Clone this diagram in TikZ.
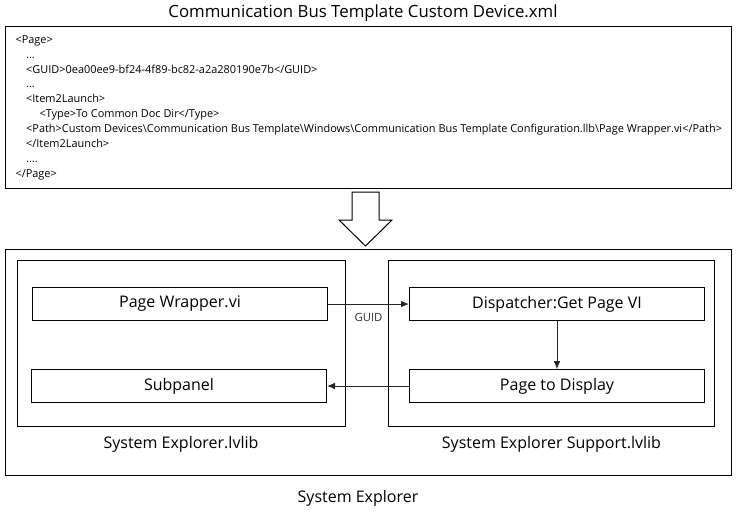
\documentclass[tikz,border=0pt]{standalone}
\usepackage{fontspec}
\setmainfont{Open Sans}
\usetikzlibrary{positioning,arrows.meta}
\begin{document}
\begin{tikzpicture}[x=0.75pt,y=-0.75pt,line width=0.75pt,
  vibox/.style={draw,minimum width=221.25pt,minimum height=24.5pt,inner sep=0pt,font=\fontsize{12}{14}\selectfont},
  libbox/.style={draw,inner sep=0pt},
  caption/.style={font=\fontsize{12}{14}\selectfont},
  flow/.style={-{Latex[length=6pt,width=5pt]},draw=black!85}]
\useasboundingbox (0,0) rectangle (739,512);
\node[caption,font=\fontsize{12.6}{14}\selectfont] (title) at (363,13) {Communication Bus Template Custom Device.xml};
\node[libbox,minimum width=545pt,minimum height=121.5pt] (xmlbox) at (368.35,107) {};
\node[anchor=north west,inner sep=0pt,align=left,font=\fontsize{8.2}{11.17}\selectfont] (xmltext) at (15,35) {%
<Page>\\
\hspace*{8pt}...\\
\hspace*{8pt}<GUID>0ea00ee9-bf24-4f89-bc82-a2a280190e7b</GUID>\\
\hspace*{8pt}...\\
\hspace*{8pt}<Item2Launch>\\
\hspace*{18pt}<Type>To Common Doc Dir</Type>\\
\hspace*{8pt}<Path>Custom Devices\textbackslash Communication Bus Template\textbackslash Windows\textbackslash Communication Bus Template Configuration.llb\textbackslash Page Wrapper.vi</Path>\\
\hspace*{8pt}</Item2Launch>\\
\hspace*{8pt}....\\
</Page>};
% block arrow
\draw (352,192) -- (379,192) -- (379,220) -- (392,220) -- (365.5,246) -- (339,220) -- (352,220) -- cycle;
% containers
\node[libbox,minimum width=545pt,minimum height=169.5pt] (sysexp) at (368.35,362) {};
\node[libbox,minimum width=245.8pt,minimum height=124.5pt] (selib) at (181.15,343.7) {};
\node[libbox,minimum width=245pt,minimum height=124.5pt] (suplib) at (551.65,343.7) {};
\node[caption] (selabel) at (181,444) {System Explorer.lvlib};
\node[caption] (suplabel) at (551.5,444) {System Explorer Support.lvlib};
\node[caption] (sysexplabel) at (358,498) {System Explorer};
% vis
\node[vibox] (wrapper) at (180,304) {Page Wrapper.vi};
\node[vibox] (subpanel) at (179,386) {Subpanel};
\node[vibox] (dispatcher) at (557,304) {Dispatcher:Get Page VI};
\node[vibox] (todisplay) at (557,386) {Page to Display};
\draw[flow] (wrapper) -- node[below=3pt,font=\fontsize{8.5}{10}\selectfont,text=black!80] {GUID} (dispatcher);
\draw[flow] (dispatcher) -- (todisplay);
\draw[flow] (todisplay) -- (subpanel);
\end{tikzpicture}
\end{document}
